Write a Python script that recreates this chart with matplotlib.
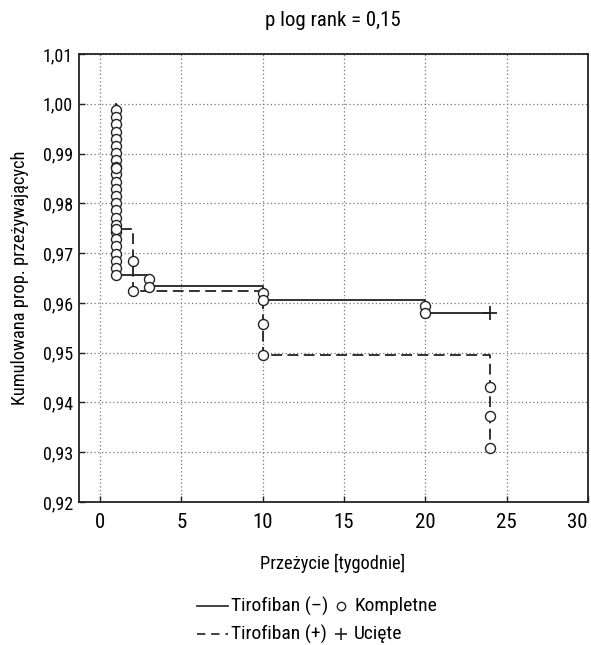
import matplotlib
matplotlib.use("Agg")
import matplotlib.pyplot as plt
from matplotlib.lines import Line2D
from matplotlib.ticker import FuncFormatter

plt.rcParams['font.family'] = ['Roboto Condensed', 'DejaVu Sans']

# ---- data ----
title = "p log rank = 0,15"
x_label = "Przeżycie [tygodnie]"
y_label = "Kumulowana prop. przeżywających"
legend_labels = ["Tirofiban (\u2013)", "Tirofiban (+)", "Kompletne", "Ucięte"]

x_ticks = [0, 5, 10, 15, 20, 25, 30]
y_ticks = [0.92, 0.93, 0.94, 0.95, 0.96, 0.97, 0.98, 0.99, 1.00, 1.01]

# step curves (week, cumulative proportion surviving)
neg_times = [1, 1, 3, 10, 20, 24]
neg_surv = [1.0, 0.9656, 0.9633, 0.9605, 0.9580, 0.9580]
pos_times = [1, 1, 2, 10, 24]
pos_surv = [1.0, 0.9748, 0.9623, 0.9495, 0.9308]

# complete (event) observations
neg_event_t = [1] * 24 + [3, 3, 10, 10, 20, 20]
neg_event_s = [0.9988, 0.9973, 0.9959, 0.9944, 0.9930, 0.9915, 0.9901, 0.9887,
               0.9872, 0.9858, 0.9843, 0.9829, 0.9815, 0.9800, 0.9786, 0.9771,
               0.9757, 0.9743, 0.9728, 0.9714, 0.9699, 0.9685, 0.9670, 0.9656,
               0.9648, 0.9632, 0.9620, 0.9605, 0.9593, 0.9580]
pos_event_t = [1, 1, 2, 2, 10, 10, 24, 24, 24]
pos_event_s = [0.9871, 0.9748, 0.9684, 0.9623, 0.9558, 0.9495, 0.9431, 0.9372, 0.9308]

# censored
cens_t = [24]
cens_s = [0.9580]

# ---- figure ----
fig = plt.figure(figsize=(5.91, 6.45), dpi=100)
ax = fig.add_axes([79/591, 1-502/645, (588-79)/591, (502-54)/645])

lc = '#222222'
ax.step(neg_times, neg_surv, where='post', color=lc, lw=1.3, zorder=3)
ax.step(pos_times, pos_surv, where='post', color=lc, lw=1.3,
        linestyle=(0, (6, 3)), zorder=3)
ax.plot(neg_event_t, neg_event_s, 'o', ms=7.2, mfc='white', mec=lc, mew=1.0, zorder=4)
ax.plot(pos_event_t, pos_event_s, 'o', ms=7.2, mfc='white', mec=lc, mew=1.0, zorder=4)
ax.plot(cens_t, cens_s, '+', ms=10, mec=lc, mew=1.3, zorder=4)

ax.set_xlim(-1.3, 30)
ax.set_ylim(0.92, 1.01)
ax.set_xticks(x_ticks)
ax.set_yticks(y_ticks)
ax.yaxis.set_major_formatter(FuncFormatter(lambda v, p: f"{v:.2f}".replace('.', ',')))
ax.tick_params(direction='in', length=4, width=1, color=lc)
ax.tick_params(axis='x', labelsize=15, pad=8)
ax.tick_params(axis='y', labelsize=13, pad=4.5)
labs = ax.get_xticklabels()
labs[-1].set_horizontalalignment('right')
ax.grid(True, linestyle=(0, (1, 2)), color='#777777', lw=0.9)
for s in ax.spines.values():
    s.set_linewidth(1.3)
    s.set_color(lc)

fig.text(333/591, 1-20/645, title, ha='center', va='center', fontsize=15)
fig.text(333/591, 1-563/645, x_label, ha='center', va='center', fontsize=13.2)
fig.text(20/591, 1-278/645, y_label, ha='center', va='center', rotation=90, fontsize=13.2)

# legend (manual)
r1, r2 = 1-606/645, 1-634/645
fig.add_artist(Line2D([197/591, 228/591], [r1, r1], color=lc, lw=1.2))
fig.add_artist(Line2D([197/591, 228/591], [r2, r2], color=lc, lw=1.2, linestyle=(0, (5, 3.5))))
fig.text(231/591, r1, legend_labels[0], ha='left', va='center', fontsize=14)
fig.text(231/591, r2, legend_labels[1], ha='left', va='center', fontsize=14)
fig.add_artist(Line2D([341/591], [r1], marker='o', ms=6, mfc='white', mec=lc, mew=1.0))
fig.add_artist(Line2D([341/591], [r2], marker='+', ms=8, mec=lc, mew=1.2))
fig.text(354/591, r1, legend_labels[2], ha='left', va='center', fontsize=14)
fig.text(354/591, r2, legend_labels[3], ha='left', va='center', fontsize=14)

fig.savefig("out.png", dpi=100)
